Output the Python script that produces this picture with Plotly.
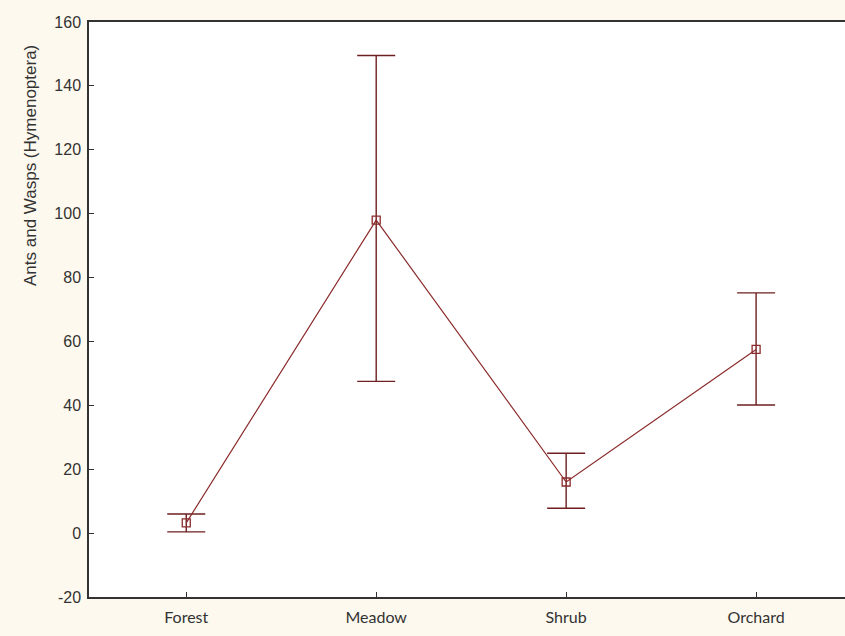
import plotly.graph_objects as go

categories = ["Forest", "Meadow", "Shrub", "Orchard"]
means = [3.2, 98.0, 16.0, 57.5]
upper = [6.0, 149.5, 25.0, 75.2]
lower = [0.4, 47.5, 7.8, 40.1]
y_ticks = [-20, 0, 20, 40, 60, 80, 100, 120, 140, 160]
y_tick_text = [str(v) for v in y_ticks]
y_title = "Ants and Wasps (Hymenoptera)"

err_plus = [u - m for u, m in zip(upper, means)]
err_minus = [m - l for m, l in zip(means, lower)]

color = "#8B2A2A"

fig = go.Figure()
fig.add_trace(go.Scatter(
    x=list(range(len(categories))), y=means,
    mode="lines+markers",
    line=dict(color=color, width=1.2),
    marker=dict(symbol="square-open", size=8, color=color, line=dict(width=1.3)),
    error_y=dict(type="data", symmetric=False, array=err_plus, arrayminus=err_minus,
                 color="#6E1F1F", thickness=1.4, width=19),
    showlegend=False,
))

fig.update_layout(
    width=845, height=636,
    margin=dict(l=89, r=0, t=22, b=39),
    paper_bgcolor="#FDF9EE",
    plot_bgcolor="#FFFFFF",
    font=dict(family="Liberation Sans, Arial", color="#333333"),
)
fig.update_xaxes(
    range=[-0.512, 3.468],
    tickvals=list(range(len(categories))), ticktext=categories,
    tickfont=dict(family="Lato, Open Sans", size=16, color="#333333"),
    ticklabelstandoff=5,
    showgrid=False, zeroline=False,
    showline=True, linecolor="#333333", linewidth=1.5, mirror=True,
    ticks="inside", ticklen=5, tickcolor="#333333",
)
fig.update_yaxes(
    range=[-20, 160], tickvals=y_ticks, ticktext=y_tick_text,
    tickfont=dict(size=16, color="#333333"),
    ticklabelstandoff=3,
    showgrid=False, zeroline=False,
    showline=True, linecolor="#333333", linewidth=1.5, mirror=False,
    ticks="inside", ticklen=5, tickcolor="#333333",
)
fig.add_annotation(
    text=y_title, textangle=-90, showarrow=False,
    xref="paper", yref="paper", x=(30 - 89) / 756, y=(597 - 166) / 575,
    xanchor="center", yanchor="middle",
    font=dict(size=17, color="#333333", family="Liberation Sans, Arial"),
)

fig.write_html("out.html", config={"displayModeBar": False})
with open("out.html", "r", encoding="utf-8") as f:
    html = f.read()
html = html.replace("<head>", "<head><style>html,body{margin:0;padding:0;overflow:hidden;}</style>", 1)
with open("out.html", "w", encoding="utf-8") as f:
    f.write(html)
